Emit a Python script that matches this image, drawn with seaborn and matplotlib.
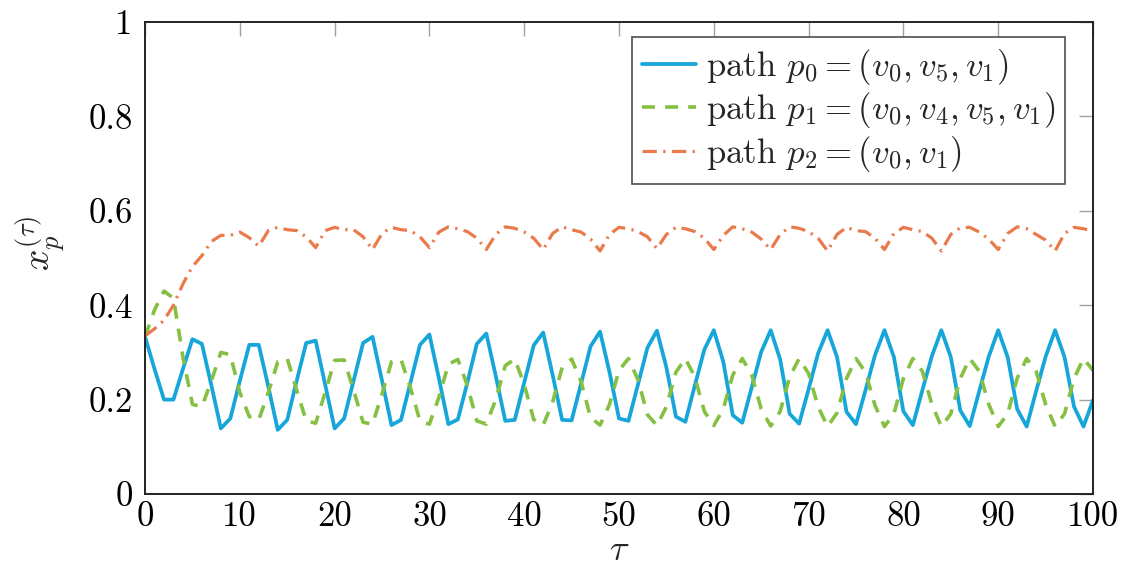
import numpy as np
import pandas as pd
import matplotlib
matplotlib.use("Agg")
import matplotlib.pyplot as plt
import seaborn as sns

# ---- data -------------------------------------------------------------
tau = list(range(0, 101))

path_p0 = [0.333, 0.265, 0.200, 0.200, 0.265, 0.328, 0.318, 0.230, 0.139, 0.160,
           0.240, 0.316, 0.316, 0.228, 0.136, 0.157, 0.240, 0.320, 0.325, 0.232,
           0.139, 0.160, 0.240, 0.320, 0.333, 0.240, 0.146, 0.157, 0.236, 0.316,
           0.338, 0.245, 0.148, 0.158, 0.236, 0.318, 0.340, 0.250, 0.155, 0.157,
           0.236, 0.315, 0.342, 0.252, 0.157, 0.156, 0.234, 0.313, 0.344, 0.258,
           0.160, 0.155, 0.232, 0.310, 0.346, 0.268, 0.164, 0.153, 0.230, 0.306,
           0.347, 0.280, 0.167, 0.151, 0.226, 0.301, 0.347, 0.285, 0.170, 0.149,
           0.222, 0.298, 0.347, 0.290, 0.174, 0.148, 0.220, 0.294, 0.347, 0.290,
           0.175, 0.146, 0.220, 0.292, 0.347, 0.290, 0.177, 0.144, 0.218, 0.291,
           0.347, 0.290, 0.180, 0.143, 0.218, 0.291, 0.347, 0.290, 0.185, 0.143,
           0.199]

path_p1 = [0.333, 0.390, 0.430, 0.415, 0.290, 0.190, 0.185, 0.240, 0.300, 0.295,
           0.215, 0.164, 0.157, 0.215, 0.280, 0.287, 0.220, 0.155, 0.150, 0.215,
           0.283, 0.284, 0.220, 0.152, 0.148, 0.212, 0.280, 0.285, 0.225, 0.155,
           0.148, 0.205, 0.275, 0.285, 0.230, 0.155, 0.148, 0.200, 0.272, 0.286,
           0.232, 0.158, 0.146, 0.195, 0.268, 0.286, 0.238, 0.162, 0.146, 0.190,
           0.262, 0.287, 0.242, 0.168, 0.145, 0.185, 0.258, 0.287, 0.248, 0.175,
           0.145, 0.180, 0.252, 0.287, 0.252, 0.180, 0.144, 0.175, 0.248, 0.287,
           0.255, 0.185, 0.143, 0.172, 0.245, 0.287, 0.258, 0.188, 0.143, 0.170,
           0.245, 0.287, 0.260, 0.190, 0.143, 0.170, 0.245, 0.287, 0.260, 0.190,
           0.143, 0.170, 0.245, 0.287, 0.260, 0.190, 0.143, 0.170, 0.245, 0.287,
           0.262]

path_p2 = [0.335, 0.350, 0.368, 0.400, 0.445, 0.482, 0.505, 0.535, 0.548, 0.548,
           0.555, 0.543, 0.525, 0.558, 0.565, 0.560, 0.558, 0.545, 0.522, 0.558,
           0.565, 0.560, 0.560, 0.545, 0.518, 0.552, 0.565, 0.560, 0.558, 0.545,
           0.522, 0.555, 0.566, 0.562, 0.556, 0.542, 0.518, 0.550, 0.566, 0.563,
           0.555, 0.542, 0.518, 0.552, 0.566, 0.560, 0.555, 0.540, 0.515, 0.550,
           0.565, 0.562, 0.556, 0.545, 0.520, 0.550, 0.565, 0.562, 0.556, 0.542,
           0.518, 0.548, 0.566, 0.562, 0.555, 0.540, 0.518, 0.550, 0.566, 0.563,
           0.556, 0.542, 0.515, 0.550, 0.565, 0.558, 0.556, 0.542, 0.518, 0.552,
           0.565, 0.560, 0.556, 0.542, 0.515, 0.550, 0.564, 0.565, 0.555, 0.540,
           0.518, 0.552, 0.566, 0.562, 0.550, 0.538, 0.515, 0.552, 0.565, 0.562,
           0.557]

series_labels = [r"path $p_0 = (v_0, v_5, v_1)$",
                 r"path $p_1 = (v_0, v_4, v_5, v_1)$",
                 r"path $p_2 = (v_0, v_1)$"]
x_ticks = [0, 10, 20, 30, 40, 50, 60, 70, 80, 90, 100]
y_ticks = [0, 0.2, 0.4, 0.6, 0.8, 1]
y_tick_labels = ["0", "0.2", "0.4", "0.6", "0.8", "1"]

# ---- style ------------------------------------------------------------
sns.set_theme(style="white")
plt.rcParams["font.family"] = ["cmr10", "DejaVu Serif"]
plt.rcParams["mathtext.fontset"] = "cm"
plt.rcParams["axes.formatter.use_mathtext"] = True
plt.rcParams["axes.unicode_minus"] = False

colors = ["#16A6DA", "#86C043", "#EA7A4C"]
dash_styles = [None, (3.6, 2.8), (4.5, 2.0, 0.7, 2.0)]
widths = [2.7, 2.6, 2.3]

df = pd.DataFrame({
    "tau": tau * 3,
    "x": path_p0 + path_p1 + path_p2,
    "series": [series_labels[0]] * len(tau) + [series_labels[1]] * len(tau)
              + [series_labels[2]] * len(tau),
})

fig = plt.figure(figsize=(11.26, 5.66), dpi=100)
ax = fig.add_axes([0.1288, 0.1272, 0.8419, 0.8339])

for i, lab in enumerate(series_labels):
    sub = df[df["series"] == lab]
    sns.lineplot(data=sub, x="tau", y="x", ax=ax, color=colors[i],
                 linewidth=widths[i], label=lab, estimator=None)
    if dash_styles[i] is not None:
        ax.lines[-1].set_dashes(dash_styles[i])

ax.set_xlim(0, 100)
ax.set_ylim(0, 1)
ax.set_xticks(x_ticks)
ax.set_xticklabels([str(t) for t in x_ticks])
ax.set_yticks(y_ticks)
ax.set_yticklabels(y_tick_labels)

ax.tick_params(axis="both", which="major", direction="in", length=10,
               width=1.0, color="#a0a0a0", labelsize=25, labelcolor="black",
               top=True, right=True)
ax.tick_params(axis="x", pad=5)
ax.tick_params(axis="y", pad=9)

for s in ax.spines.values():
    s.set_visible(True)
    s.set_color("#222222")
    s.set_linewidth(1.4)

ax.set_xlabel(r"$\tau$", fontsize=26)
ax.xaxis.set_label_coords(0.5, -0.088)
ax.set_ylabel(r"$x_p^{(\tau)}$", fontsize=27)
ax.yaxis.set_label_coords(-0.082, 0.53)

leg = ax.legend(loc="upper right", bbox_to_anchor=(0.9705, 0.968),
                borderaxespad=0.0, fontsize=25, frameon=True, fancybox=False,
                handlelength=1.55, handletextpad=0.3, labelspacing=0.1,
                borderpad=0.28)
leg.get_frame().set_edgecolor("#222222")
leg.get_frame().set_linewidth(1.2)
for h, d in zip(leg.get_lines(), dash_styles):
    if d is not None:
        h.set_dashes(d)

fig.savefig("out.png", dpi=100)
